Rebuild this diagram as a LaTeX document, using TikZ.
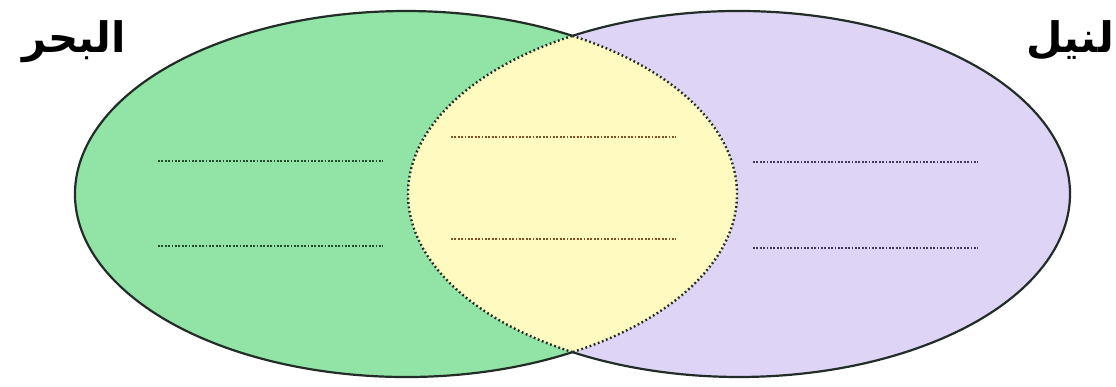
\documentclass[tikz,border=0pt]{standalone}
\usepackage{fontspec}
\newfontfamily\arabicfont[Script=Arabic]{DejaVu Sans}
\TeXXeTstate=1
\definecolor{greenfill}{RGB}{145,228,165}
\definecolor{purplefill}{RGB}{222,212,246}
\definecolor{yellowfill}{RGB}{255,251,192}
\definecolor{outlinec}{RGB}{35,45,40}
\definecolor{greenline}{RGB}{35,75,45}
\definecolor{midline}{RGB}{130,80,35}
\definecolor{purpline}{RGB}{65,60,85}
\tikzset{
  outline/.style={draw=outlinec, line width=2.2pt},
  innerarc/.style={draw=outlinec, line width=2.4pt, dash pattern=on 1.8pt off 2.6pt},
  writeline/.style={line width=2.2pt, dash pattern=on 1.8pt off 1.6pt},
  setlabel/.style={inner sep=0pt, font=\arabicfont\bfseries\fontsize{42}{48}\selectfont}
}
\begin{document}
\begin{tikzpicture}[x=1pt,y=-1pt]
\useasboundingbox (0,0) rectangle (1116,387);
\coordinate (L) at (406,194);
\coordinate (R) at (739,194);
% fills
\fill[greenfill] (L) ellipse [x radius=331, y radius=183];
\fill[purplefill] (R) ellipse [x radius=331, y radius=183];
\begin{scope}
  \clip (L) ellipse [x radius=331, y radius=183];
  \fill[yellowfill] (R) ellipse [x radius=331, y radius=183];
\end{scope}
% outer outlines
\draw[outline] (L) ++(59.8:331 and 183) arc[start angle=59.8, end angle=300.2, x radius=331, y radius=183];
\draw[outline] (R) ++(-120.2:331 and 183) arc[start angle=-120.2, end angle=120.2, x radius=331, y radius=183];
% inner arcs
\draw[innerarc] (L) ++(-59.8:331 and 183) arc[start angle=-59.8, end angle=59.8, x radius=331, y radius=183];
\draw[innerarc] (R) ++(120.2:331 and 183) arc[start angle=120.2, end angle=239.8, x radius=331, y radius=183];
% writing lines
\coordinate (la1) at (158,161); \coordinate (lb1) at (383,161);
\coordinate (la2) at (158,246); \coordinate (lb2) at (383,246);
\coordinate (ma1) at (451,137); \coordinate (mb1) at (676,137);
\coordinate (ma2) at (451,239); \coordinate (mb2) at (676,239);
\coordinate (ra1) at (753,162); \coordinate (rb1) at (978,162);
\coordinate (ra2) at (753,248); \coordinate (rb2) at (978,248);
\draw[writeline, draw=greenline] (la1) -- (lb1);
\draw[writeline, draw=greenline] (la2) -- (lb2);
\draw[writeline, draw=midline] (ma1) -- (mb1);
\draw[writeline, draw=midline] (ma2) -- (mb2);
\draw[writeline, draw=purpline] (ra1) -- (rb1);
\draw[writeline, draw=purpline] (ra2) -- (rb2);
% labels
\node[setlabel, anchor=base east] (sea) at (126,53) {\beginR البحر\endR};
\node[setlabel, anchor=base east] (nile) at (1114,53) {\beginR لنيل\endR};
\end{tikzpicture}
\end{document}
